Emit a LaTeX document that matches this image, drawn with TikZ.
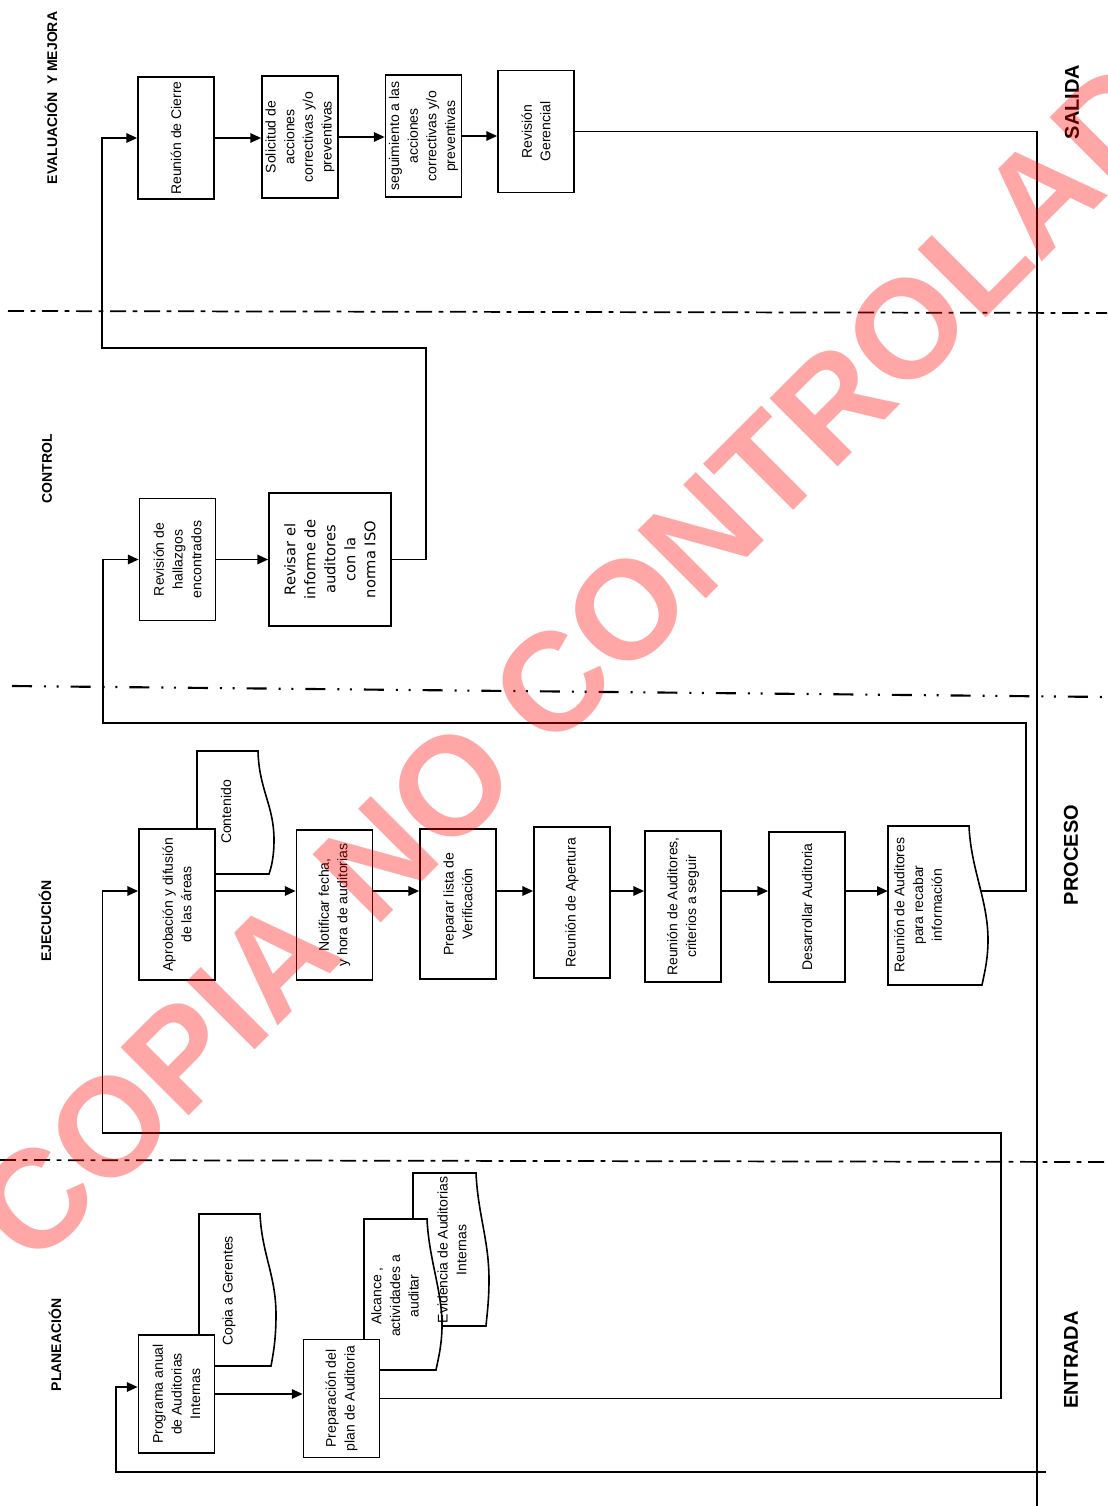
\documentclass[tikz,border=0pt]{standalone}
\usepackage{fontspec}
\setmainfont{Liberation Sans}
\newfontfamily\verdana{DejaVu Sans}
\usetikzlibrary{arrows.meta}

\tikzset{
  caja/.style={draw, fill=white, rotate=90, line width=1.3pt, align=center, inner sep=2pt,
    minimum width=91.5pt, minimum height=57pt, font=\fontsize{10.5}{14}\selectfont},
  cajalarga/.style={caja, minimum width=113pt},
  cajacorta/.style={caja, minimum width=88.5pt},
  documento/.style={draw, fill=white, line width=1.2pt},
  texto/.style={rotate=90, align=center, inner sep=0pt, font=\fontsize{10.5}{14}\selectfont},
  carril/.style={rotate=90, inner sep=0pt, font=\fontsize{10.5}{12}\selectfont\bfseries},
  etapa/.style={rotate=90, inner sep=0pt, font=\fontsize{15}{17}\selectfont\bfseries},
  flecha/.style={line width=1.2pt, -{Triangle[length=8pt,width=7pt]}},
  linea/.style={line width=1.2pt},
  division/.style={line width=1.3pt, dash pattern=on 12pt off 5pt on 3.5pt off 5pt},
  division2/.style={line width=1.6pt, dash pattern=on 15pt off 9pt on 1.5pt off 8pt on 1.5pt off 9pt}
}

\begin{document}
\begin{tikzpicture}[x=0.75pt,y=0.75pt,yscale=-1]
\path[use as bounding box, fill=white] (0,0) rectangle (1107,1506);

% Divisiones de carriles
\draw[division] (8,311) -- (1107,313);
\draw[division2] (12,686) -- (1107,697);
\draw[division] (0,1160) -- (1107,1162);

% Etiquetas de carriles
\node[carril] (evaluacion) at (51,98) {EVALUACIÓN~ Y MEJORA};
\node[carril] (control) at (47,469) {CONTROL};
\node[carril] (ejecucion) at (45,921) {EJECUCIÓN};
\node[carril] (planeacion) at (55,1345) {PLANEACIÓN};
\node[etapa] (salida) at (1072,102) {SALIDA};
\node[etapa] (proceso) at (1071,855) {PROCESO};
\node[etapa] (entrada) at (1071,1360) {ENTRADA};

% Evaluacion y mejora
\node[caja] (cierre) at (176,138) {Reunión de Cierre};
\node[caja] (solicitud) at (300,137) {Solicitud de\\acciones\\correctivas y/o\\preventivas};
\node[caja] (seguimiento) at (423.5,136) {seguimiento a las\\acciones\\correctivas y/o\\preventivas};
\node[caja] (gerencial) at (536,131.5) {Revisión\\Gerencial};

% Control
\node[caja] (hallazgos) at (177.5,559.5) {Revisión de\\hallazgos\\encontrados};
\node[caja, minimum width=100pt, minimum height=91.5pt, font=\verdana\fontsize{11}{15}\selectfont] (revisar) at (330,559.5) {Revisar el\\informe de\\auditores\\con la\\norma ISO};

% Ejecucion
\draw[documento] (197,751) -- (258,751) .. controls (259,790) and (274,805) .. (274,840) .. controls (274,858) and (271,868) .. (269,874) -- (197,874) -- cycle;
\node[texto] (contenido) at (226,812) {Contenido};
\node[cajalarga] (aprobacion) at (177,904.5) {Aprobación y difusión\\de las áreas};
\node[cajalarga] (notificar) at (334.5,905) {Notificar fecha,\\y hora de auditorias};
\node[cajalarga] (preparar) at (458,904) {Preparar lista de\\Verificación};
\node[cajalarga] (apertura) at (572,902.5) {Reunión de Apertura};
\node[cajalarga] (criterios) at (683,906.5) {Reunión de Auditores,\\criterios a seguir};
\node[cajalarga] (desarrollar) at (807,907) {Desarrollar Auditoria};
\draw[documento] (888,826) -- (969,826) .. controls (971,870) and (988,900) .. (988,940) .. controls (988,960) and (984,975) .. (982,985) -- (888,985) -- cycle;
\node[texto, minimum height=45pt] (recabar) at (918,905) {Reunión de Auditores\\para recabar\\información};

% Planeacion
\draw[documento] (199,1214) -- (260,1214) .. controls (262,1255) and (276,1275) .. (276,1315) .. controls (276,1340) and (273,1355) .. (271,1366) -- (199,1366) -- cycle;
\node[texto] (copia) at (229,1291) {Copia a Gerentes};
\node[cajacorta] (programa) at (176.5,1394) {Programa anual\\de Auditorias\\Internas};
\draw[documento] (413,1173) -- (476,1173) .. controls (478,1215) and (489,1240) .. (489,1280) .. controls (489,1300) and (487,1315) .. (486,1326) -- (413,1326) -- cycle;
\draw[documento] (364,1219) -- (427,1219) .. controls (429,1260) and (442,1290) .. (442,1325) .. controls (442,1345) and (438,1360) .. (436,1370) -- (364,1370) -- cycle;
\node[texto] (alcance) at (395,1296) {Alcance ,\\actividades a\\auditar};
\node[texto] (evidencia) at (452,1250) {Evidencia de Auditorias\\Internas};
\node[cajacorta] (preparacion) at (341.5,1398.5) {Preparación del\\plan de Auditoria};

% Conectores
\coordinate (ejey) at (0,891);
\coordinate (pin) at (0,1387);
\coordinate (c1) at (426,348);
\coordinate (c2) at (102,348);
\coordinate (r0) at (981,891);
\coordinate (r1) at (1026,723);
\coordinate (r2) at (103,723);
\coordinate (p1) at (1001,1133);
\coordinate (p2) at (102.5,1133);
\coordinate (g1) at (1037,1472);
\coordinate (g2) at (116,1472);

\foreach \a/\b in {cierre/solicitud, solicitud/seguimiento, seguimiento/gerencial}
  \draw[flecha] (\a.south) -- (\a.south -| \b.north);
\draw[flecha] (hallazgos.south) -- (hallazgos.south -| revisar.north);
\foreach \a/\b in {aprobacion/notificar, notificar/preparar, preparar/apertura, apertura/criterios, criterios/desarrollar, desarrollar/recabar}
  \draw[flecha] (\a.south |- ejey) -- (\b.north |- ejey);
\draw[flecha] (programa.south) -- (programa.south -| preparacion.north);

\draw[flecha] (revisar.south) -| (c1) -- (c2) |- (cierre.north);
\draw[flecha] (r0) -| (r1) -- (r2) |- (hallazgos.north);
\draw[flecha] (preparacion.south) -| (p1) -- (p2) |- (aprobacion.north |- ejey);
\draw[flecha] (gerencial.south) -| (g1) -- (g2) |- (programa.north |- pin);
\draw[linea] (g1) -- (1037,1506);
\draw[linea] (g1) -- (1046,1472);

% Marca de agua
\node[rotate=45, text=red, text opacity=0.35, inner sep=0pt, font=\fontsize{105}{105}\selectfont\bfseries] (marca) at (610,626) {COPIA NO CONTROLADA};
\end{tikzpicture}
\end{document}
